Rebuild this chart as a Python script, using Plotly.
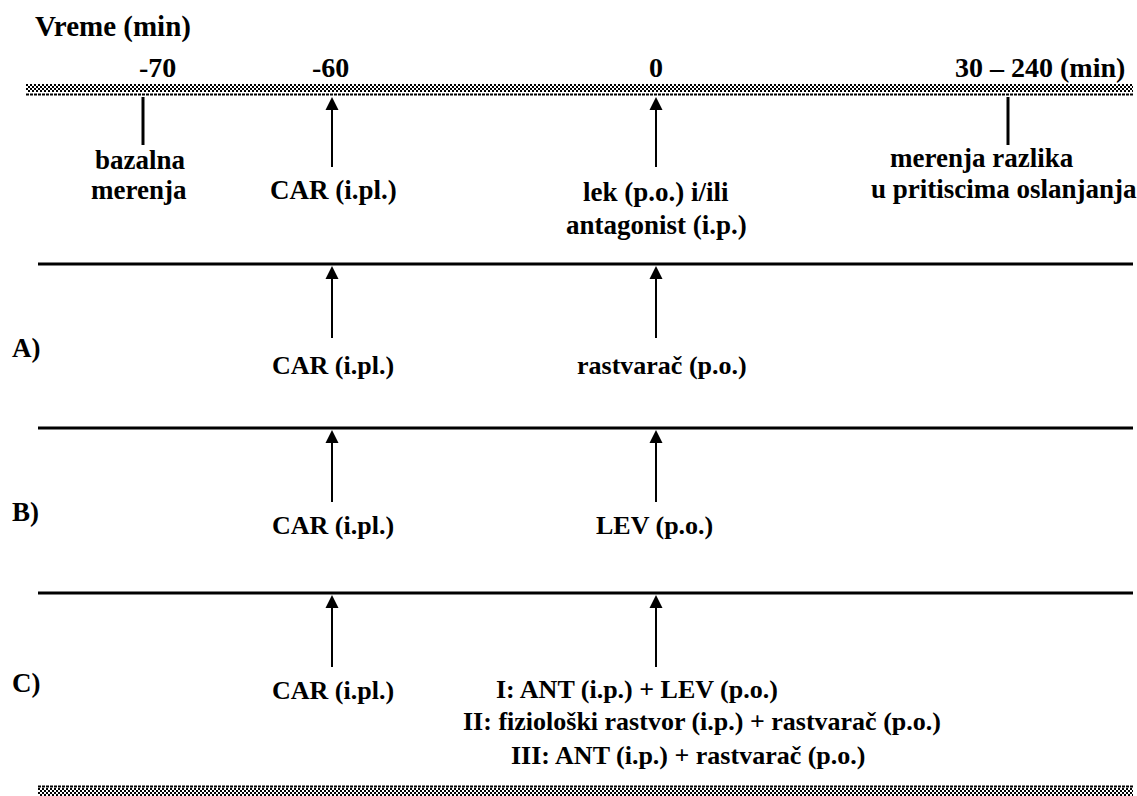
import plotly.graph_objects as go

# time points on the top axis
time_labels = ["-70", "-60", "0", "30 – 240 (min)"]
time_label_x = [157, 330, 656, 1040]
time_x = [143, 332, 656, 1008]
time_kind = ["tick", "arrow", "arrow", "tick"]

# text under the top axis
top_notes = ["bazalna", "merenja", "CAR (i.pl.)", "lek (p.o.) i/ili", "antagonist (i.p.)",
             "merenja razlika", "u pritiscima oslanjanja"]
top_notes_x = [140, 139, 333, 656, 656, 982, 1004]
top_notes_y = [160, 190, 190, 192, 225, 158, 189]

# protocol rows
row_names = ["A)", "B)", "C)"]
row_line_y = [264, 428, 593]
row_name_y = [348, 512, 683]
row_arrow_x = [332, 656]
row_notes = [
    ["CAR (i.pl.)", "rastvarač (p.o.)"],
    ["CAR (i.pl.)", "LEV (p.o.)"],
    ["CAR (i.pl.)", "I: ANT (i.p.) + LEV (p.o.)",
     "II: fiziološki rastvor (i.p.) + rastvarač (p.o.)",
     "III: ANT (i.p.) + rastvarač (p.o.)"],
]
row_notes_x = [[333, 662], [333, 654], [333, 637, 702, 688]]
row_notes_y = [[365, 365], [525, 525], [690, 689, 721, 755]]

W, H = 1137, 796
X0_TOP, X0, X1 = 26, 38, 1133
BAND_TOP = 97

fig = go.Figure()


def line(x, y, w, dash="solid"):
    fig.add_trace(go.Scatter(x=x, y=y, mode="lines", hoverinfo="skip",
                             line=dict(color="black", width=w, dash=dash)))


def band(x0, x1, rows_y, dash_y):
    for i, yy in enumerate(rows_y):
        line([x0 + 2 * (i % 2), x1], [yy, yy], 2, "2px,2px")
    line([x0, x1], [dash_y, dash_y], 2, "3px,1px")


# hatched axis bands
band(X0_TOP, X1, [85, 87, 89, 91], 94.5)
band(X0, X1, [789, 791, 793, 795], 786.5)

# horizontal row lines
for yy in row_line_y:
    line([X0, X1], [yy, yy], 3)

# ticks and arrows from the top axis
heads_x, heads_y = [], []
for xx, kind in zip(time_x, time_kind):
    if kind == "tick":
        line([xx, xx], [BAND_TOP, 145], 3)
    else:
        line([xx, xx], [BAND_TOP + 8, 167], 2)
        heads_x.append(xx)
        heads_y.append(BAND_TOP)

# arrows in each row
for yy in row_line_y:
    for xx in row_arrow_x:
        line([xx, xx], [yy + 10, yy + 74], 2)
        heads_x.append(xx)
        heads_y.append(yy + 2)

fig.add_trace(go.Scatter(x=heads_x, y=heads_y, mode="markers", hoverinfo="skip",
                         marker=dict(symbol="arrow-up", size=13, color="black",
                                     line=dict(width=0))))

FAMILY = "Liberation Serif, Times New Roman, serif"


def text(x, y, s, anchor="center", size=26):
    fig.add_annotation(x=x, y=y, text=s, showarrow=False, xanchor=anchor,
                       yanchor="middle",
                       font=dict(family=FAMILY, size=size, color="black", weight="bold"))


text(33, 26, "Vreme (min)", "left", 29)
for s, xx in zip(time_labels, time_label_x):
    text(xx, 67, s, size=28)
for s, xx, yy in zip(top_notes, top_notes_x, top_notes_y):
    text(xx, yy, s, size=27)
for name, ny, notes, nx, nys in zip(row_names, row_name_y, row_notes, row_notes_x, row_notes_y):
    text(10, ny, name, "left", 27)
    for s, xx, yy in zip(notes, nx, nys):
        text(xx, yy, s)

fig.update_xaxes(range=[0, W], visible=False, fixedrange=True)
fig.update_yaxes(range=[H, 0], visible=False, fixedrange=True)
fig.update_layout(width=W, height=H, margin=dict(l=0, r=0, t=0, b=0),
                  showlegend=False, paper_bgcolor="white", plot_bgcolor="white")

fig.write_html("out.html", config={"displayModeBar": False},
               post_script="document.body.style.margin='0';")
